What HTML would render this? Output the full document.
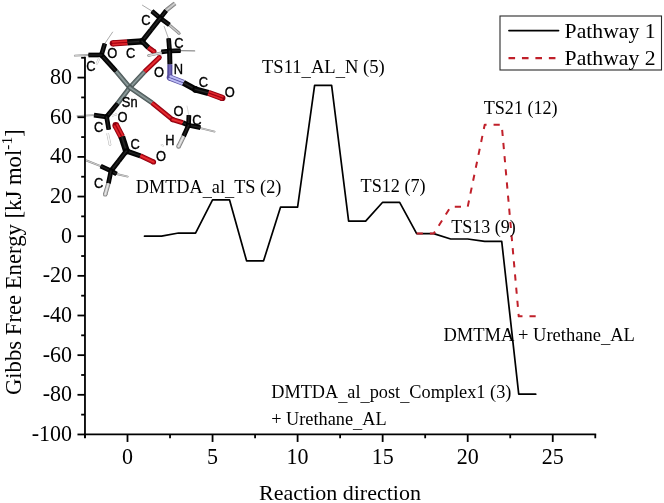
<!DOCTYPE html>
<html><head><meta charset="utf-8"><style>
html,body{margin:0;padding:0;background:#fff;}
body{width:664px;height:503px;overflow:hidden;}
svg{display:block;}
</style></head><body>
<svg width="664" height="503" viewBox="0 0 664 503">
<g id="mol">
<line x1="151.9" y1="11.1" x2="142.4" y2="5.2" stroke="#a0a0a0" stroke-width="0.9" stroke-linecap="round"/>
<line x1="168.4" y1="38.3" x2="164.2" y2="26.5" stroke="#a8a8a8" stroke-width="0.9" stroke-linecap="round"/>
<line x1="180.6" y1="50.6" x2="194.7" y2="50.9" stroke="#8e8e8e" stroke-width="1.1" stroke-linecap="round"/>
<line x1="104.8" y1="43.6" x2="112.6" y2="32.1" stroke="#a0a0a0" stroke-width="0.9" stroke-linecap="round"/>
<line x1="88.5" y1="55.0" x2="74.8" y2="55.6" stroke="#8a8a8a" stroke-width="1.8" stroke-linecap="round"/>
<line x1="88.5" y1="55.0" x2="74.8" y2="55.6" stroke="#e6e6e6" stroke-width="0.72" stroke-linecap="round"/>
<line x1="94.0" y1="115.1" x2="77.4" y2="116.0" stroke="#8a8a8a" stroke-width="1.6" stroke-linecap="round"/>
<line x1="94.0" y1="115.1" x2="77.4" y2="116.0" stroke="#e6e6e6" stroke-width="0.64" stroke-linecap="round"/>
<line x1="188.9" y1="115.5" x2="187.0" y2="106.0" stroke="#d0d0d0" stroke-width="0.8" stroke-linecap="round"/>
<line x1="200.4" y1="128.2" x2="214.6" y2="131.6" stroke="#8a8a8a" stroke-width="1.8" stroke-linecap="round"/>
<line x1="200.4" y1="128.2" x2="214.6" y2="131.6" stroke="#e6e6e6" stroke-width="0.72" stroke-linecap="round"/>
<line x1="100.7" y1="166.1" x2="86.4" y2="160.5" stroke="#8a8a8a" stroke-width="1.9" stroke-linecap="round"/>
<line x1="100.7" y1="166.1" x2="86.4" y2="160.5" stroke="#e6e6e6" stroke-width="0.76" stroke-linecap="round"/>
<line x1="116.6" y1="174.0" x2="127.7" y2="176.6" stroke="#8a8a8a" stroke-width="1.9" stroke-linecap="round"/>
<line x1="116.6" y1="174.0" x2="127.7" y2="176.6" stroke="#e6e6e6" stroke-width="0.76" stroke-linecap="round"/>
<line x1="160.30" y1="18.20" x2="151.90" y2="11.10" stroke="#000000" stroke-width="4.70"/>
<circle cx="160.30" cy="18.20" r="2.35" fill="#000000"/>
<line x1="160.30" y1="18.20" x2="151.90" y2="11.10" stroke="#0a0a0a" stroke-width="2.91"/>
<circle cx="160.30" cy="18.20" r="1.46" fill="#0a0a0a"/>
<line x1="160.30" y1="18.20" x2="151.90" y2="11.10" stroke="#262626" stroke-width="1.03"/>
<circle cx="160.30" cy="18.20" r="0.52" fill="#262626"/>
<line x1="160.30" y1="18.20" x2="166.30" y2="10.30" stroke="#000000" stroke-width="4.70"/>
<circle cx="160.30" cy="18.20" r="2.35" fill="#000000"/>
<line x1="160.30" y1="18.20" x2="166.30" y2="10.30" stroke="#0a0a0a" stroke-width="2.91"/>
<circle cx="160.30" cy="18.20" r="1.46" fill="#0a0a0a"/>
<line x1="160.30" y1="18.20" x2="166.30" y2="10.30" stroke="#262626" stroke-width="1.03"/>
<circle cx="160.30" cy="18.20" r="0.52" fill="#262626"/>
<line x1="175.00" y1="3.40" x2="166.30" y2="10.30" stroke="#7c7c7c" stroke-width="4.40"/>
<line x1="175.00" y1="3.40" x2="166.30" y2="10.30" stroke="#b4b4b4" stroke-width="2.73"/>
<line x1="175.00" y1="3.40" x2="166.30" y2="10.30" stroke="#d8d8d8" stroke-width="0.97"/>
<line x1="160.30" y1="18.20" x2="169.40" y2="24.80" stroke="#000000" stroke-width="4.70"/>
<circle cx="160.30" cy="18.20" r="2.35" fill="#000000"/>
<line x1="160.30" y1="18.20" x2="169.40" y2="24.80" stroke="#0a0a0a" stroke-width="2.91"/>
<circle cx="160.30" cy="18.20" r="1.46" fill="#0a0a0a"/>
<line x1="160.30" y1="18.20" x2="169.40" y2="24.80" stroke="#262626" stroke-width="1.03"/>
<circle cx="160.30" cy="18.20" r="0.52" fill="#262626"/>
<line x1="179.00" y1="33.20" x2="169.60" y2="25.20" stroke="#7c7c7c" stroke-width="3.00"/>
<circle cx="179.00" cy="33.20" r="1.50" fill="#7c7c7c"/>
<line x1="179.00" y1="33.20" x2="169.60" y2="25.20" stroke="#b4b4b4" stroke-width="1.86"/>
<circle cx="179.00" cy="33.20" r="0.93" fill="#b4b4b4"/>
<line x1="179.00" y1="33.20" x2="169.60" y2="25.20" stroke="#d8d8d8" stroke-width="0.66"/>
<circle cx="179.00" cy="33.20" r="0.33" fill="#d8d8d8"/>
<line x1="160.30" y1="18.20" x2="151.15" y2="29.75" stroke="#000000" stroke-width="5.10"/>
<circle cx="160.30" cy="18.20" r="2.55" fill="#000000"/>
<line x1="160.30" y1="18.20" x2="151.15" y2="29.75" stroke="#0a0a0a" stroke-width="3.16"/>
<circle cx="160.30" cy="18.20" r="1.58" fill="#0a0a0a"/>
<line x1="160.30" y1="18.20" x2="151.15" y2="29.75" stroke="#262626" stroke-width="1.12"/>
<circle cx="160.30" cy="18.20" r="0.56" fill="#262626"/>
<line x1="142.00" y1="41.30" x2="151.15" y2="29.75" stroke="#000000" stroke-width="5.10"/>
<circle cx="142.00" cy="41.30" r="2.55" fill="#000000"/>
<line x1="142.00" y1="41.30" x2="151.15" y2="29.75" stroke="#0a0a0a" stroke-width="3.16"/>
<circle cx="142.00" cy="41.30" r="1.58" fill="#0a0a0a"/>
<line x1="142.00" y1="41.30" x2="151.15" y2="29.75" stroke="#262626" stroke-width="1.12"/>
<circle cx="142.00" cy="41.30" r="0.56" fill="#262626"/>
<line x1="142.00" y1="41.30" x2="127.20" y2="42.40" stroke="#000000" stroke-width="6.20"/>
<circle cx="142.00" cy="41.30" r="3.10" fill="#000000"/>
<line x1="142.00" y1="41.30" x2="127.20" y2="42.40" stroke="#0a0a0a" stroke-width="3.84"/>
<circle cx="142.00" cy="41.30" r="1.92" fill="#0a0a0a"/>
<line x1="142.00" y1="41.30" x2="127.20" y2="42.40" stroke="#262626" stroke-width="1.36"/>
<circle cx="142.00" cy="41.30" r="0.68" fill="#262626"/>
<line x1="112.80" y1="43.30" x2="127.20" y2="42.40" stroke="#8c0010" stroke-width="6.20"/>
<circle cx="112.80" cy="43.30" r="3.10" fill="#8c0010"/>
<line x1="112.71" y1="41.94" x2="127.11" y2="41.04" stroke="#cc101c" stroke-width="2.11"/>
<circle cx="112.71" cy="41.94" r="1.05" fill="#cc101c"/>
<line x1="112.71" y1="41.94" x2="127.11" y2="41.04" stroke="#e83a3a" stroke-width="0.74"/>
<circle cx="112.71" cy="41.94" r="0.37" fill="#e83a3a"/>
<line x1="112.89" y1="44.66" x2="127.29" y2="43.76" stroke="#cc101c" stroke-width="2.11"/>
<circle cx="112.89" cy="44.66" r="1.05" fill="#cc101c"/>
<line x1="112.89" y1="44.66" x2="127.29" y2="43.76" stroke="#e83a3a" stroke-width="0.74"/>
<circle cx="112.89" cy="44.66" r="0.37" fill="#e83a3a"/>
<line x1="142.00" y1="41.30" x2="148.40" y2="47.60" stroke="#000000" stroke-width="5.10"/>
<circle cx="142.00" cy="41.30" r="2.55" fill="#000000"/>
<line x1="142.00" y1="41.30" x2="148.40" y2="47.60" stroke="#0a0a0a" stroke-width="3.16"/>
<circle cx="142.00" cy="41.30" r="1.58" fill="#0a0a0a"/>
<line x1="142.00" y1="41.30" x2="148.40" y2="47.60" stroke="#262626" stroke-width="1.12"/>
<circle cx="142.00" cy="41.30" r="0.56" fill="#262626"/>
<line x1="154.00" y1="51.60" x2="148.40" y2="47.60" stroke="#8c0010" stroke-width="5.10"/>
<circle cx="154.00" cy="51.60" r="2.55" fill="#8c0010"/>
<line x1="154.00" y1="51.60" x2="148.40" y2="47.60" stroke="#cc101c" stroke-width="3.16"/>
<circle cx="154.00" cy="51.60" r="1.58" fill="#cc101c"/>
<line x1="154.00" y1="51.60" x2="148.40" y2="47.60" stroke="#e83a3a" stroke-width="1.12"/>
<circle cx="154.00" cy="51.60" r="0.56" fill="#e83a3a"/>
<line x1="159.40" y1="57.40" x2="144.40" y2="71.80" stroke="#8c0010" stroke-width="4.80"/>
<circle cx="159.40" cy="57.40" r="2.40" fill="#8c0010"/>
<line x1="159.40" y1="57.40" x2="144.40" y2="71.80" stroke="#cc101c" stroke-width="2.98"/>
<circle cx="159.40" cy="57.40" r="1.49" fill="#cc101c"/>
<line x1="159.40" y1="57.40" x2="144.40" y2="71.80" stroke="#e83a3a" stroke-width="1.06"/>
<circle cx="159.40" cy="57.40" r="0.53" fill="#e83a3a"/>
<line x1="129.80" y1="87.60" x2="144.40" y2="71.80" stroke="#4a5656" stroke-width="4.80"/>
<circle cx="129.80" cy="87.60" r="2.40" fill="#4a5656"/>
<line x1="129.80" y1="87.60" x2="144.40" y2="71.80" stroke="#6a7878" stroke-width="2.98"/>
<circle cx="129.80" cy="87.60" r="1.49" fill="#6a7878"/>
<line x1="129.80" y1="87.60" x2="144.40" y2="71.80" stroke="#94a2a2" stroke-width="1.06"/>
<circle cx="129.80" cy="87.60" r="0.53" fill="#94a2a2"/>
<line x1="169.60" y1="51.00" x2="161.40" y2="51.80" stroke="#000000" stroke-width="4.70"/>
<circle cx="169.60" cy="51.00" r="2.35" fill="#000000"/>
<line x1="169.60" y1="51.00" x2="161.40" y2="51.80" stroke="#0a0a0a" stroke-width="2.91"/>
<circle cx="169.60" cy="51.00" r="1.46" fill="#0a0a0a"/>
<line x1="169.60" y1="51.00" x2="161.40" y2="51.80" stroke="#262626" stroke-width="1.03"/>
<circle cx="169.60" cy="51.00" r="0.52" fill="#262626"/>
<line x1="148.60" y1="55.60" x2="161.40" y2="52.80" stroke="#808080" stroke-width="2.60"/>
<circle cx="148.60" cy="55.60" r="1.30" fill="#808080"/>
<line x1="148.60" y1="55.60" x2="161.40" y2="52.80" stroke="#cacaca" stroke-width="1.61"/>
<circle cx="148.60" cy="55.60" r="0.81" fill="#cacaca"/>
<line x1="148.60" y1="55.60" x2="161.40" y2="52.80" stroke="#ececec" stroke-width="0.57"/>
<circle cx="148.60" cy="55.60" r="0.29" fill="#ececec"/>
<line x1="169.60" y1="51.00" x2="168.60" y2="38.40" stroke="#000000" stroke-width="4.70"/>
<circle cx="169.60" cy="51.00" r="2.35" fill="#000000"/>
<line x1="169.60" y1="51.00" x2="168.60" y2="38.40" stroke="#0a0a0a" stroke-width="2.91"/>
<circle cx="169.60" cy="51.00" r="1.46" fill="#0a0a0a"/>
<line x1="169.60" y1="51.00" x2="168.60" y2="38.40" stroke="#262626" stroke-width="1.03"/>
<circle cx="169.60" cy="51.00" r="0.52" fill="#262626"/>
<line x1="169.60" y1="51.00" x2="180.60" y2="50.60" stroke="#000000" stroke-width="4.70"/>
<circle cx="169.60" cy="51.00" r="2.35" fill="#000000"/>
<line x1="169.60" y1="51.00" x2="180.60" y2="50.60" stroke="#0a0a0a" stroke-width="2.91"/>
<circle cx="169.60" cy="51.00" r="1.46" fill="#0a0a0a"/>
<line x1="169.60" y1="51.00" x2="180.60" y2="50.60" stroke="#262626" stroke-width="1.03"/>
<circle cx="169.60" cy="51.00" r="0.52" fill="#262626"/>
<line x1="169.60" y1="51.00" x2="169.90" y2="64.40" stroke="#000000" stroke-width="5.00"/>
<circle cx="169.60" cy="51.00" r="2.50" fill="#000000"/>
<line x1="169.60" y1="51.00" x2="169.90" y2="64.40" stroke="#0a0a0a" stroke-width="3.10"/>
<circle cx="169.60" cy="51.00" r="1.55" fill="#0a0a0a"/>
<line x1="169.60" y1="51.00" x2="169.90" y2="64.40" stroke="#262626" stroke-width="1.10"/>
<circle cx="169.60" cy="51.00" r="0.55" fill="#262626"/>
<line x1="169.80" y1="77.60" x2="169.90" y2="64.40" stroke="#48408e" stroke-width="5.00"/>
<circle cx="169.80" cy="77.60" r="2.50" fill="#48408e"/>
<line x1="169.80" y1="77.60" x2="169.90" y2="64.40" stroke="#5e54a6" stroke-width="3.10"/>
<circle cx="169.80" cy="77.60" r="1.55" fill="#5e54a6"/>
<line x1="169.80" y1="77.60" x2="169.90" y2="64.40" stroke="#8074c0" stroke-width="1.10"/>
<circle cx="169.80" cy="77.60" r="0.55" fill="#8074c0"/>
<line x1="169.80" y1="77.60" x2="183.50" y2="82.90" stroke="#5850a0" stroke-width="6.20"/>
<circle cx="169.80" cy="77.60" r="3.10" fill="#5850a0"/>
<line x1="170.29" y1="76.33" x2="183.99" y2="81.63" stroke="#aeaeee" stroke-width="2.11"/>
<circle cx="170.29" cy="76.33" r="1.05" fill="#aeaeee"/>
<line x1="170.29" y1="76.33" x2="183.99" y2="81.63" stroke="#c8c8f8" stroke-width="0.74"/>
<circle cx="170.29" cy="76.33" r="0.37" fill="#c8c8f8"/>
<line x1="169.31" y1="78.87" x2="183.01" y2="84.17" stroke="#aeaeee" stroke-width="2.11"/>
<circle cx="169.31" cy="78.87" r="1.05" fill="#aeaeee"/>
<line x1="169.31" y1="78.87" x2="183.01" y2="84.17" stroke="#c8c8f8" stroke-width="0.74"/>
<circle cx="169.31" cy="78.87" r="0.37" fill="#c8c8f8"/>
<line x1="195.40" y1="89.40" x2="183.50" y2="82.90" stroke="#000000" stroke-width="6.20"/>
<circle cx="195.40" cy="89.40" r="3.10" fill="#000000"/>
<line x1="195.40" y1="89.40" x2="183.50" y2="82.90" stroke="#0a0a0a" stroke-width="3.84"/>
<circle cx="195.40" cy="89.40" r="1.92" fill="#0a0a0a"/>
<line x1="195.40" y1="89.40" x2="183.50" y2="82.90" stroke="#262626" stroke-width="1.36"/>
<circle cx="195.40" cy="89.40" r="0.68" fill="#262626"/>
<line x1="195.40" y1="89.40" x2="208.40" y2="92.90" stroke="#000000" stroke-width="6.20"/>
<circle cx="195.40" cy="89.40" r="3.10" fill="#000000"/>
<line x1="195.40" y1="89.40" x2="208.40" y2="92.90" stroke="#0a0a0a" stroke-width="3.84"/>
<circle cx="195.40" cy="89.40" r="1.92" fill="#0a0a0a"/>
<line x1="195.40" y1="89.40" x2="208.40" y2="92.90" stroke="#262626" stroke-width="1.36"/>
<circle cx="195.40" cy="89.40" r="0.68" fill="#262626"/>
<line x1="222.40" y1="98.00" x2="208.40" y2="92.90" stroke="#8c0010" stroke-width="6.20"/>
<circle cx="222.40" cy="98.00" r="3.10" fill="#8c0010"/>
<line x1="221.93" y1="99.28" x2="207.93" y2="94.18" stroke="#cc101c" stroke-width="2.11"/>
<circle cx="221.93" cy="99.28" r="1.05" fill="#cc101c"/>
<line x1="221.93" y1="99.28" x2="207.93" y2="94.18" stroke="#e83a3a" stroke-width="0.74"/>
<circle cx="221.93" cy="99.28" r="0.37" fill="#e83a3a"/>
<line x1="222.87" y1="96.72" x2="208.87" y2="91.62" stroke="#cc101c" stroke-width="2.11"/>
<circle cx="222.87" cy="96.72" r="1.05" fill="#cc101c"/>
<line x1="222.87" y1="96.72" x2="208.87" y2="91.62" stroke="#e83a3a" stroke-width="0.74"/>
<circle cx="222.87" cy="96.72" r="0.37" fill="#e83a3a"/>
<line x1="129.80" y1="87.60" x2="116.00" y2="71.20" stroke="#4a5656" stroke-width="4.90"/>
<circle cx="129.80" cy="87.60" r="2.45" fill="#4a5656"/>
<line x1="129.80" y1="87.60" x2="116.00" y2="71.20" stroke="#6a7878" stroke-width="3.04"/>
<circle cx="129.80" cy="87.60" r="1.52" fill="#6a7878"/>
<line x1="129.80" y1="87.60" x2="116.00" y2="71.20" stroke="#94a2a2" stroke-width="1.08"/>
<circle cx="129.80" cy="87.60" r="0.54" fill="#94a2a2"/>
<line x1="101.40" y1="55.00" x2="116.00" y2="71.20" stroke="#000000" stroke-width="4.90"/>
<circle cx="101.40" cy="55.00" r="2.45" fill="#000000"/>
<line x1="101.40" y1="55.00" x2="116.00" y2="71.20" stroke="#0a0a0a" stroke-width="3.04"/>
<circle cx="101.40" cy="55.00" r="1.52" fill="#0a0a0a"/>
<line x1="101.40" y1="55.00" x2="116.00" y2="71.20" stroke="#262626" stroke-width="1.08"/>
<circle cx="101.40" cy="55.00" r="0.54" fill="#262626"/>
<line x1="129.80" y1="87.60" x2="117.60" y2="103.50" stroke="#4a5656" stroke-width="4.90"/>
<circle cx="129.80" cy="87.60" r="2.45" fill="#4a5656"/>
<line x1="129.80" y1="87.60" x2="117.60" y2="103.50" stroke="#6a7878" stroke-width="3.04"/>
<circle cx="129.80" cy="87.60" r="1.52" fill="#6a7878"/>
<line x1="129.80" y1="87.60" x2="117.60" y2="103.50" stroke="#94a2a2" stroke-width="1.08"/>
<circle cx="129.80" cy="87.60" r="0.54" fill="#94a2a2"/>
<line x1="106.60" y1="116.90" x2="117.60" y2="103.50" stroke="#000000" stroke-width="4.90"/>
<circle cx="106.60" cy="116.90" r="2.45" fill="#000000"/>
<line x1="106.60" y1="116.90" x2="117.60" y2="103.50" stroke="#0a0a0a" stroke-width="3.04"/>
<circle cx="106.60" cy="116.90" r="1.52" fill="#0a0a0a"/>
<line x1="106.60" y1="116.90" x2="117.60" y2="103.50" stroke="#262626" stroke-width="1.08"/>
<circle cx="106.60" cy="116.90" r="0.54" fill="#262626"/>
<line x1="129.80" y1="87.60" x2="152.00" y2="102.80" stroke="#4a5656" stroke-width="4.80"/>
<circle cx="129.80" cy="87.60" r="2.40" fill="#4a5656"/>
<line x1="129.80" y1="87.60" x2="152.00" y2="102.80" stroke="#6a7878" stroke-width="2.98"/>
<circle cx="129.80" cy="87.60" r="1.49" fill="#6a7878"/>
<line x1="129.80" y1="87.60" x2="152.00" y2="102.80" stroke="#94a2a2" stroke-width="1.06"/>
<circle cx="129.80" cy="87.60" r="0.53" fill="#94a2a2"/>
<line x1="172.60" y1="119.60" x2="152.00" y2="102.80" stroke="#8c0010" stroke-width="4.80"/>
<circle cx="172.60" cy="119.60" r="2.40" fill="#8c0010"/>
<line x1="172.60" y1="119.60" x2="152.00" y2="102.80" stroke="#cc101c" stroke-width="2.98"/>
<circle cx="172.60" cy="119.60" r="1.49" fill="#cc101c"/>
<line x1="172.60" y1="119.60" x2="152.00" y2="102.80" stroke="#e83a3a" stroke-width="1.06"/>
<circle cx="172.60" cy="119.60" r="0.53" fill="#e83a3a"/>
<line x1="101.40" y1="55.00" x2="104.80" y2="43.60" stroke="#000000" stroke-width="4.70"/>
<circle cx="101.40" cy="55.00" r="2.35" fill="#000000"/>
<line x1="101.40" y1="55.00" x2="104.80" y2="43.60" stroke="#0a0a0a" stroke-width="2.91"/>
<circle cx="101.40" cy="55.00" r="1.46" fill="#0a0a0a"/>
<line x1="101.40" y1="55.00" x2="104.80" y2="43.60" stroke="#262626" stroke-width="1.03"/>
<circle cx="101.40" cy="55.00" r="0.52" fill="#262626"/>
<line x1="101.40" y1="55.00" x2="88.50" y2="55.00" stroke="#000000" stroke-width="4.70"/>
<circle cx="101.40" cy="55.00" r="2.35" fill="#000000"/>
<line x1="101.40" y1="55.00" x2="88.50" y2="55.00" stroke="#0a0a0a" stroke-width="2.91"/>
<circle cx="101.40" cy="55.00" r="1.46" fill="#0a0a0a"/>
<line x1="101.40" y1="55.00" x2="88.50" y2="55.00" stroke="#262626" stroke-width="1.03"/>
<circle cx="101.40" cy="55.00" r="0.52" fill="#262626"/>
<line x1="96.90" y1="63.40" x2="99.50" y2="57.80" stroke="#b4b4b4" stroke-width="2.20"/>
<circle cx="96.90" cy="63.40" r="1.10" fill="#b4b4b4"/>
<line x1="96.90" y1="63.40" x2="99.50" y2="57.80" stroke="#f4f4f4" stroke-width="1.36"/>
<circle cx="96.90" cy="63.40" r="0.68" fill="#f4f4f4"/>
<line x1="96.90" y1="63.40" x2="99.50" y2="57.80" stroke="#ffffff" stroke-width="0.48"/>
<circle cx="96.90" cy="63.40" r="0.24" fill="#ffffff"/>
<line x1="106.60" y1="116.90" x2="94.00" y2="115.10" stroke="#000000" stroke-width="4.60"/>
<circle cx="106.60" cy="116.90" r="2.30" fill="#000000"/>
<line x1="106.60" y1="116.90" x2="94.00" y2="115.10" stroke="#0a0a0a" stroke-width="2.85"/>
<circle cx="106.60" cy="116.90" r="1.43" fill="#0a0a0a"/>
<line x1="106.60" y1="116.90" x2="94.00" y2="115.10" stroke="#262626" stroke-width="1.01"/>
<circle cx="106.60" cy="116.90" r="0.51" fill="#262626"/>
<line x1="106.60" y1="116.90" x2="108.80" y2="129.60" stroke="#000000" stroke-width="4.70"/>
<circle cx="106.60" cy="116.90" r="2.35" fill="#000000"/>
<line x1="106.60" y1="116.90" x2="108.80" y2="129.60" stroke="#0a0a0a" stroke-width="2.91"/>
<circle cx="106.60" cy="116.90" r="1.46" fill="#0a0a0a"/>
<line x1="106.60" y1="116.90" x2="108.80" y2="129.60" stroke="#262626" stroke-width="1.03"/>
<circle cx="106.60" cy="116.90" r="0.52" fill="#262626"/>
<line x1="110.00" y1="144.50" x2="107.60" y2="133.20" stroke="#b4b4b4" stroke-width="2.60"/>
<circle cx="110.00" cy="144.50" r="1.30" fill="#b4b4b4"/>
<line x1="110.00" y1="144.50" x2="107.60" y2="133.20" stroke="#f4f4f4" stroke-width="1.61"/>
<circle cx="110.00" cy="144.50" r="0.81" fill="#f4f4f4"/>
<line x1="110.00" y1="144.50" x2="107.60" y2="133.20" stroke="#ffffff" stroke-width="0.57"/>
<circle cx="110.00" cy="144.50" r="0.29" fill="#ffffff"/>
<line x1="116.30" y1="114.40" x2="112.00" y2="115.80" stroke="#b4b4b4" stroke-width="1.80"/>
<circle cx="116.30" cy="114.40" r="0.90" fill="#b4b4b4"/>
<line x1="116.30" y1="114.40" x2="112.00" y2="115.80" stroke="#f4f4f4" stroke-width="1.12"/>
<circle cx="116.30" cy="114.40" r="0.56" fill="#f4f4f4"/>
<line x1="116.30" y1="114.40" x2="112.00" y2="115.80" stroke="#ffffff" stroke-width="0.40"/>
<circle cx="116.30" cy="114.40" r="0.20" fill="#ffffff"/>
<line x1="172.60" y1="119.60" x2="183.00" y2="122.80" stroke="#8c0010" stroke-width="5.10"/>
<circle cx="172.60" cy="119.60" r="2.55" fill="#8c0010"/>
<line x1="172.60" y1="119.60" x2="183.00" y2="122.80" stroke="#cc101c" stroke-width="3.16"/>
<circle cx="172.60" cy="119.60" r="1.58" fill="#cc101c"/>
<line x1="172.60" y1="119.60" x2="183.00" y2="122.80" stroke="#e83a3a" stroke-width="1.12"/>
<circle cx="172.60" cy="119.60" r="0.56" fill="#e83a3a"/>
<line x1="188.50" y1="125.30" x2="183.00" y2="122.80" stroke="#000000" stroke-width="5.10"/>
<circle cx="188.50" cy="125.30" r="2.55" fill="#000000"/>
<line x1="188.50" y1="125.30" x2="183.00" y2="122.80" stroke="#0a0a0a" stroke-width="3.16"/>
<circle cx="188.50" cy="125.30" r="1.58" fill="#0a0a0a"/>
<line x1="188.50" y1="125.30" x2="183.00" y2="122.80" stroke="#262626" stroke-width="1.12"/>
<circle cx="188.50" cy="125.30" r="0.56" fill="#262626"/>
<line x1="188.50" y1="125.30" x2="188.90" y2="115.20" stroke="#000000" stroke-width="4.70"/>
<circle cx="188.50" cy="125.30" r="2.35" fill="#000000"/>
<line x1="188.50" y1="125.30" x2="188.90" y2="115.20" stroke="#0a0a0a" stroke-width="2.91"/>
<circle cx="188.50" cy="125.30" r="1.46" fill="#0a0a0a"/>
<line x1="188.50" y1="125.30" x2="188.90" y2="115.20" stroke="#262626" stroke-width="1.03"/>
<circle cx="188.50" cy="125.30" r="0.52" fill="#262626"/>
<line x1="188.50" y1="125.30" x2="200.40" y2="127.60" stroke="#000000" stroke-width="4.70"/>
<circle cx="188.50" cy="125.30" r="2.35" fill="#000000"/>
<line x1="188.50" y1="125.30" x2="200.40" y2="127.60" stroke="#0a0a0a" stroke-width="2.91"/>
<circle cx="188.50" cy="125.30" r="1.46" fill="#0a0a0a"/>
<line x1="188.50" y1="125.30" x2="200.40" y2="127.60" stroke="#262626" stroke-width="1.03"/>
<circle cx="188.50" cy="125.30" r="0.52" fill="#262626"/>
<line x1="188.50" y1="125.30" x2="183.60" y2="136.20" stroke="#000000" stroke-width="4.70"/>
<circle cx="188.50" cy="125.30" r="2.35" fill="#000000"/>
<line x1="188.50" y1="125.30" x2="183.60" y2="136.20" stroke="#0a0a0a" stroke-width="2.91"/>
<circle cx="188.50" cy="125.30" r="1.46" fill="#0a0a0a"/>
<line x1="188.50" y1="125.30" x2="183.60" y2="136.20" stroke="#262626" stroke-width="1.03"/>
<circle cx="188.50" cy="125.30" r="0.52" fill="#262626"/>
<line x1="178.60" y1="146.40" x2="183.60" y2="136.20" stroke="#808080" stroke-width="4.60"/>
<circle cx="178.60" cy="146.40" r="2.30" fill="#808080"/>
<line x1="178.60" y1="146.40" x2="183.60" y2="136.20" stroke="#cacaca" stroke-width="2.85"/>
<circle cx="178.60" cy="146.40" r="1.43" fill="#cacaca"/>
<line x1="178.60" y1="146.40" x2="183.60" y2="136.20" stroke="#ececec" stroke-width="1.01"/>
<circle cx="178.60" cy="146.40" r="0.51" fill="#ececec"/>
<line x1="115.80" y1="125.40" x2="121.80" y2="136.80" stroke="#8c0010" stroke-width="6.80"/>
<circle cx="115.80" cy="125.40" r="3.40" fill="#8c0010"/>
<line x1="117.12" y1="124.70" x2="123.12" y2="136.10" stroke="#cc101c" stroke-width="2.31"/>
<circle cx="117.12" cy="124.70" r="1.16" fill="#cc101c"/>
<line x1="117.12" y1="124.70" x2="123.12" y2="136.10" stroke="#e83a3a" stroke-width="0.82"/>
<circle cx="117.12" cy="124.70" r="0.41" fill="#e83a3a"/>
<line x1="114.48" y1="126.10" x2="120.48" y2="137.50" stroke="#cc101c" stroke-width="2.31"/>
<circle cx="114.48" cy="126.10" r="1.16" fill="#cc101c"/>
<line x1="114.48" y1="126.10" x2="120.48" y2="137.50" stroke="#e83a3a" stroke-width="0.82"/>
<circle cx="114.48" cy="126.10" r="0.41" fill="#e83a3a"/>
<line x1="126.40" y1="151.00" x2="121.80" y2="136.80" stroke="#000000" stroke-width="6.80"/>
<circle cx="126.40" cy="151.00" r="3.40" fill="#000000"/>
<line x1="126.40" y1="151.00" x2="121.80" y2="136.80" stroke="#0a0a0a" stroke-width="4.22"/>
<circle cx="126.40" cy="151.00" r="2.11" fill="#0a0a0a"/>
<line x1="126.40" y1="151.00" x2="121.80" y2="136.80" stroke="#262626" stroke-width="1.50"/>
<circle cx="126.40" cy="151.00" r="0.75" fill="#262626"/>
<line x1="126.40" y1="151.00" x2="140.40" y2="155.80" stroke="#000000" stroke-width="5.10"/>
<circle cx="126.40" cy="151.00" r="2.55" fill="#000000"/>
<line x1="126.40" y1="151.00" x2="140.40" y2="155.80" stroke="#0a0a0a" stroke-width="3.16"/>
<circle cx="126.40" cy="151.00" r="1.58" fill="#0a0a0a"/>
<line x1="126.40" y1="151.00" x2="140.40" y2="155.80" stroke="#262626" stroke-width="1.12"/>
<circle cx="126.40" cy="151.00" r="0.56" fill="#262626"/>
<line x1="153.60" y1="162.00" x2="140.40" y2="155.80" stroke="#8c0010" stroke-width="5.10"/>
<circle cx="153.60" cy="162.00" r="2.55" fill="#8c0010"/>
<line x1="153.60" y1="162.00" x2="140.40" y2="155.80" stroke="#cc101c" stroke-width="3.16"/>
<circle cx="153.60" cy="162.00" r="1.58" fill="#cc101c"/>
<line x1="153.60" y1="162.00" x2="140.40" y2="155.80" stroke="#e83a3a" stroke-width="1.12"/>
<circle cx="153.60" cy="162.00" r="0.56" fill="#e83a3a"/>
<line x1="126.40" y1="151.00" x2="118.70" y2="160.95" stroke="#000000" stroke-width="5.10"/>
<circle cx="126.40" cy="151.00" r="2.55" fill="#000000"/>
<line x1="126.40" y1="151.00" x2="118.70" y2="160.95" stroke="#0a0a0a" stroke-width="3.16"/>
<circle cx="126.40" cy="151.00" r="1.58" fill="#0a0a0a"/>
<line x1="126.40" y1="151.00" x2="118.70" y2="160.95" stroke="#262626" stroke-width="1.12"/>
<circle cx="126.40" cy="151.00" r="0.56" fill="#262626"/>
<line x1="111.00" y1="170.90" x2="118.70" y2="160.95" stroke="#000000" stroke-width="5.10"/>
<circle cx="111.00" cy="170.90" r="2.55" fill="#000000"/>
<line x1="111.00" y1="170.90" x2="118.70" y2="160.95" stroke="#0a0a0a" stroke-width="3.16"/>
<circle cx="111.00" cy="170.90" r="1.58" fill="#0a0a0a"/>
<line x1="111.00" y1="170.90" x2="118.70" y2="160.95" stroke="#262626" stroke-width="1.12"/>
<circle cx="111.00" cy="170.90" r="0.56" fill="#262626"/>
<line x1="111.00" y1="170.90" x2="100.70" y2="166.10" stroke="#000000" stroke-width="4.70"/>
<circle cx="111.00" cy="170.90" r="2.35" fill="#000000"/>
<line x1="111.00" y1="170.90" x2="100.70" y2="166.10" stroke="#0a0a0a" stroke-width="2.91"/>
<circle cx="111.00" cy="170.90" r="1.46" fill="#0a0a0a"/>
<line x1="111.00" y1="170.90" x2="100.70" y2="166.10" stroke="#262626" stroke-width="1.03"/>
<circle cx="111.00" cy="170.90" r="0.52" fill="#262626"/>
<line x1="111.00" y1="170.90" x2="116.60" y2="174.00" stroke="#000000" stroke-width="4.70"/>
<circle cx="111.00" cy="170.90" r="2.35" fill="#000000"/>
<line x1="111.00" y1="170.90" x2="116.60" y2="174.00" stroke="#0a0a0a" stroke-width="2.91"/>
<circle cx="111.00" cy="170.90" r="1.46" fill="#0a0a0a"/>
<line x1="111.00" y1="170.90" x2="116.60" y2="174.00" stroke="#262626" stroke-width="1.03"/>
<circle cx="111.00" cy="170.90" r="0.52" fill="#262626"/>
<line x1="111.00" y1="170.90" x2="108.40" y2="183.40" stroke="#000000" stroke-width="4.70"/>
<circle cx="111.00" cy="170.90" r="2.35" fill="#000000"/>
<line x1="111.00" y1="170.90" x2="108.40" y2="183.40" stroke="#0a0a0a" stroke-width="2.91"/>
<circle cx="111.00" cy="170.90" r="1.46" fill="#0a0a0a"/>
<line x1="111.00" y1="170.90" x2="108.40" y2="183.40" stroke="#262626" stroke-width="1.03"/>
<circle cx="111.00" cy="170.90" r="0.52" fill="#262626"/>
<line x1="105.20" y1="194.40" x2="108.40" y2="183.40" stroke="#808080" stroke-width="4.40"/>
<circle cx="105.20" cy="194.40" r="2.20" fill="#808080"/>
<line x1="105.20" y1="194.40" x2="108.40" y2="183.40" stroke="#cacaca" stroke-width="2.73"/>
<circle cx="105.20" cy="194.40" r="1.36" fill="#cacaca"/>
<line x1="105.20" y1="194.40" x2="108.40" y2="183.40" stroke="#ececec" stroke-width="0.97"/>
<circle cx="105.20" cy="194.40" r="0.48" fill="#ececec"/>
<line x1="161.50" y1="145.00" x2="163.80" y2="146.00" stroke="#b4b4b4" stroke-width="1.60"/>
<circle cx="161.50" cy="145.00" r="0.80" fill="#b4b4b4"/>
<line x1="161.50" y1="145.00" x2="163.80" y2="146.00" stroke="#f4f4f4" stroke-width="0.99"/>
<circle cx="161.50" cy="145.00" r="0.50" fill="#f4f4f4"/>
<line x1="161.50" y1="145.00" x2="163.80" y2="146.00" stroke="#ffffff" stroke-width="0.35"/>
<circle cx="161.50" cy="145.00" r="0.18" fill="#ffffff"/>
<g font-family="Liberation Sans, Arial, sans-serif" font-size="14.0" fill="#000" stroke="#000" stroke-width="0.35" text-anchor="middle">
<text transform="translate(145.8,24.8) scale(0.92,1)">C</text>
<text transform="translate(130.7,58.3) scale(0.92,1)">C</text>
<text transform="translate(112.2,58.1) scale(0.92,1)">O</text>
<text transform="translate(179.0,47.8) scale(0.92,1)">C</text>
<text transform="translate(159.1,77.0) scale(0.92,1)">O</text>
<text transform="translate(178.3,73.9) scale(0.92,1)">N</text>
<text transform="translate(91.0,70.5) scale(0.92,1)">C</text>
<text transform="translate(122.4,122.2) scale(0.92,1)">O</text>
<text transform="translate(98.6,132.0) scale(0.92,1)">C</text>
<text transform="translate(135.2,148.6) scale(0.92,1)">C</text>
<text transform="translate(178.4,116.1) scale(0.92,1)">O</text>
<text transform="translate(196.8,124.6) scale(0.92,1)">C</text>
<text transform="translate(170.0,144.6) scale(0.92,1)">H</text>
<text transform="translate(203.4,87.1) scale(0.92,1)">C</text>
<text transform="translate(229.8,96.6) scale(0.92,1)">O</text>
<text transform="translate(161.0,160.5) scale(0.92,1)">O</text>
<text transform="translate(98.6,188.1) scale(0.92,1)">C</text>
<text transform="translate(129.7,106.7) scale(0.92,1)">Sn</text>
</g>
</g>
<g stroke="#000" stroke-width="1.8" fill="none">
<line x1="84.97" y1="56.87" x2="84.97" y2="437.96"/>
<line x1="84.07" y1="434.46" x2="596.18" y2="434.46"/>
<line x1="77.47" y1="434.46" x2="84.97" y2="434.46"/>
<line x1="81.17" y1="414.63" x2="84.97" y2="414.63"/>
<line x1="77.47" y1="394.81" x2="84.97" y2="394.81"/>
<line x1="81.17" y1="374.98" x2="84.97" y2="374.98"/>
<line x1="77.47" y1="355.16" x2="84.97" y2="355.16"/>
<line x1="81.17" y1="335.33" x2="84.97" y2="335.33"/>
<line x1="77.47" y1="315.50" x2="84.97" y2="315.50"/>
<line x1="81.17" y1="295.68" x2="84.97" y2="295.68"/>
<line x1="77.47" y1="275.85" x2="84.97" y2="275.85"/>
<line x1="81.17" y1="256.03" x2="84.97" y2="256.03"/>
<line x1="77.47" y1="236.20" x2="84.97" y2="236.20"/>
<line x1="81.17" y1="216.37" x2="84.97" y2="216.37"/>
<line x1="77.47" y1="196.55" x2="84.97" y2="196.55"/>
<line x1="81.17" y1="176.72" x2="84.97" y2="176.72"/>
<line x1="77.47" y1="156.90" x2="84.97" y2="156.90"/>
<line x1="81.17" y1="137.07" x2="84.97" y2="137.07"/>
<line x1="77.47" y1="117.24" x2="84.97" y2="117.24"/>
<line x1="81.17" y1="97.42" x2="84.97" y2="97.42"/>
<line x1="77.47" y1="77.59" x2="84.97" y2="77.59"/>
<line x1="81.17" y1="57.77" x2="84.97" y2="57.77"/>
<line x1="84.97" y1="434.46" x2="84.97" y2="438.26"/>
<line x1="127.50" y1="434.46" x2="127.50" y2="441.96"/>
<line x1="170.03" y1="434.46" x2="170.03" y2="438.26"/>
<line x1="212.55" y1="434.46" x2="212.55" y2="441.96"/>
<line x1="255.08" y1="434.46" x2="255.08" y2="438.26"/>
<line x1="297.60" y1="434.46" x2="297.60" y2="441.96"/>
<line x1="340.12" y1="434.46" x2="340.12" y2="438.26"/>
<line x1="382.65" y1="434.46" x2="382.65" y2="441.96"/>
<line x1="425.18" y1="434.46" x2="425.18" y2="438.26"/>
<line x1="467.70" y1="434.46" x2="467.70" y2="441.96"/>
<line x1="510.23" y1="434.46" x2="510.23" y2="438.26"/>
<line x1="552.75" y1="434.46" x2="552.75" y2="441.96"/>
<line x1="595.28" y1="434.46" x2="595.28" y2="438.26"/>
</g>
<polyline points="144.51,236.20 161.52,236.20 178.53,233.03 195.54,233.03 212.55,199.92 229.56,199.92 246.57,260.78 263.58,260.78 280.59,207.06 297.60,207.06 314.61,85.32 331.62,85.32 348.63,221.13 365.64,221.13 382.65,202.30 399.66,202.30 416.67,233.62 433.68,233.62 450.69,238.98 467.70,238.98 484.71,241.35 501.72,241.35 518.73,394.21 535.74,394.21" fill="none" stroke="#000" stroke-width="1.7" stroke-linejoin="round" stroke-linecap="round"/>
<polyline points="416.67,233.62 433.68,233.62 450.69,206.86 467.70,206.86 484.71,124.78 501.72,124.78 518.73,316.30 535.74,316.30" fill="none" stroke="#c0202a" stroke-width="2" stroke-dasharray="6.2 7.0" stroke-linejoin="round"/>
<g font-family="Liberation Serif, serif" font-size="22" fill="#000">
<text transform="translate(72.0,441.0) scale(1,1.07)" text-anchor="end">-100</text>
<text transform="translate(72.0,401.3) scale(1,1.07)" text-anchor="end">-80</text>
<text transform="translate(72.0,361.7) scale(1,1.07)" text-anchor="end">-60</text>
<text transform="translate(72.0,322.0) scale(1,1.07)" text-anchor="end">-40</text>
<text transform="translate(72.0,282.4) scale(1,1.07)" text-anchor="end">-20</text>
<text transform="translate(72.0,242.7) scale(1,1.07)" text-anchor="end">0</text>
<text transform="translate(72.0,203.0) scale(1,1.07)" text-anchor="end">20</text>
<text transform="translate(72.0,163.4) scale(1,1.07)" text-anchor="end">40</text>
<text transform="translate(72.0,123.7) scale(1,1.07)" text-anchor="end">60</text>
<text transform="translate(72.0,84.1) scale(1,1.07)" text-anchor="end">80</text>
<text transform="translate(127.5,464.3) scale(1,1.07)" text-anchor="middle">0</text>
<text transform="translate(212.6,464.3) scale(1,1.07)" text-anchor="middle">5</text>
<text transform="translate(297.6,464.3) scale(1,1.07)" text-anchor="middle">10</text>
<text transform="translate(382.7,464.3) scale(1,1.07)" text-anchor="middle">15</text>
<text transform="translate(467.7,464.3) scale(1,1.07)" text-anchor="middle">20</text>
<text transform="translate(552.8,464.3) scale(1,1.07)" text-anchor="middle">25</text>
<text x="340" y="500" text-anchor="middle">Reaction direction</text>
<text transform="translate(21,262.2) rotate(-90)" text-anchor="middle" font-size="22.7">Gibbs Free Energy [kJ mol<tspan font-size="15.5" dy="-9">-1</tspan><tspan dy="9">]</tspan></text>
</g>
<g font-family="Liberation Serif, serif" font-size="18.6" fill="#000">
<text x="262" y="73.4" font-size="18.6">TS11<tspan dy="2.8" fill="#333">_</tspan><tspan dy="-2.8">AL</tspan><tspan dy="2.8" fill="#333">_</tspan><tspan dy="-2.8">N (5)</tspan></text>
<text x="135.7" y="193.4" font-size="18.3">DMTDA<tspan dy="2.8" fill="#333">_</tspan><tspan dy="-2.8">al</tspan><tspan dy="2.8" fill="#333">_</tspan><tspan dy="-2.8">TS (2)</tspan></text>
<text x="360.6" y="192.2" font-size="18.15">TS12 (7)</text>
<text x="483.7" y="113.9" font-size="18.13">TS21 (12)</text>
<text x="451.3" y="232.6" font-size="18.03">TS13 (9)</text>
<text x="443.4" y="340.5" font-size="18.52">DMTMA + Urethane<tspan dy="2.8" fill="#333">_</tspan><tspan dy="-2.8">AL</tspan></text>
<text x="271.2" y="397.8" font-size="18.3">DMTDA<tspan dy="2.8" fill="#333">_</tspan><tspan dy="-2.8">al</tspan><tspan dy="2.8" fill="#333">_</tspan><tspan dy="-2.8">post</tspan><tspan dy="2.8" fill="#333">_</tspan><tspan dy="-2.8">Complex1 (3)</tspan></text>
<text x="271.2" y="424.7" font-size="18.3">+ Urethane<tspan dy="2.8" fill="#333">_</tspan><tspan dy="-2.8">AL</tspan></text>
</g>
<rect x="500" y="16" width="161.5" height="54" fill="none" stroke="#2a2a2a" stroke-width="1.1"/>
<line x1="509" y1="30.6" x2="558.5" y2="30.6" stroke="#000" stroke-width="1.8" stroke-linecap="round"/>
<line x1="508.5" y1="58.1" x2="556" y2="58.1" stroke="#c0202a" stroke-width="2.2" stroke-dasharray="6.6 6.85"/>
<g font-family="Liberation Serif, serif" font-size="21.7" fill="#000">
<text x="564.6" y="38">Pathway 1</text>
<text x="564.6" y="65">Pathway 2</text>
</g>
</svg>
</body></html>
